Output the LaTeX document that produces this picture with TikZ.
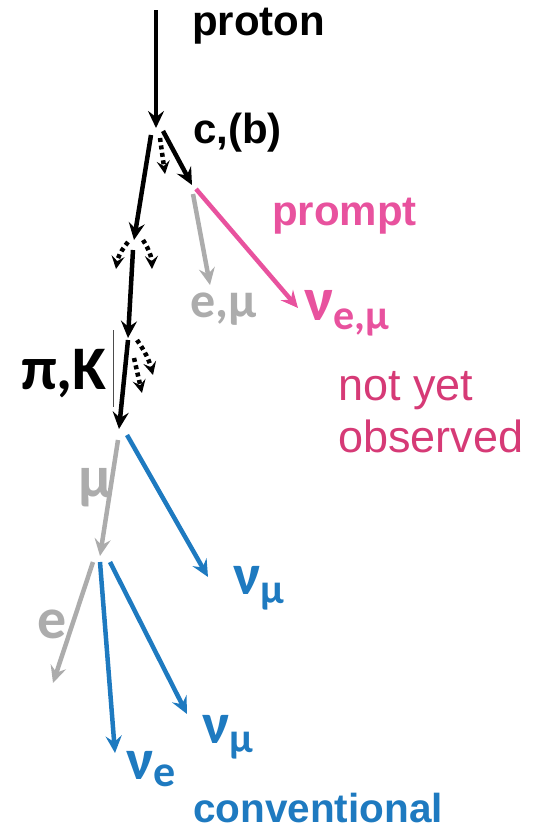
\documentclass[tikz,border=0pt]{standalone}
\usepackage{fontspec}
\setmainfont{Liberation Sans}
\newfontfamily\carl{Carlito}
\usetikzlibrary{arrows.meta}
\definecolor{pinkA}{RGB}{232,82,158}
\definecolor{pinkB}{RGB}{214,58,118}
\definecolor{blueA}{RGB}{30,122,192}
\definecolor{grayA}{RGB}{172,172,172}
\tikzset{
  arr/.style={line width=4.5pt,-{Stealth[length=17pt,width=16pt,inset=6pt]}},
  darr/.style={line width=4.5pt,dash pattern=on 4pt off 3.5pt,-{Stealth[length=13pt,width=13pt,inset=5pt]}},
  lbl/.style={anchor=base west,inner sep=0pt,outer sep=0pt},
  bigb/.style={lbl,font=\bfseries\fontsize{42}{48}\selectfont},
  greek/.style={lbl,font=\carl\bfseries\fontsize{58}{60}\selectfont},
}
\begin{document}
\begin{tikzpicture}[x=1pt,y=-1pt]
\useasboundingbox (0,0) rectangle (536,830);
% coordinates
\coordinate (pTop) at (156,10);
\coordinate (v1) at (156,128);
\coordinate (lS) at (151,135);
\coordinate (lE) at (134,240);
\coordinate (dcS) at (160,138);
\coordinate (dcE) at (165,174);
\coordinate (rS) at (163,131);
\coordinate (rE) at (192,185);
\coordinate (gS) at (193,194);
\coordinate (gE) at (210,285);
\coordinate (pkS) at (196,189);
\coordinate (pkE) at (298,308);
\coordinate (d2lS) at (128,242);
\coordinate (d2lE) at (116,269);
\coordinate (d2rS) at (143,240);
\coordinate (d2rE) at (152,269);
\coordinate (bS) at (133,250);
\coordinate (bM) at (128,338);
\coordinate (bM2) at (128,340);
\coordinate (bE) at (119,429);
\coordinate (d3aS) at (137,340);
\coordinate (d3aE) at (153,375);
\coordinate (d3bS) at (134,358);
\coordinate (d3bE) at (142,393);
\coordinate (curT) at (113,330);
\coordinate (curB) at (113,407);
\coordinate (muS) at (118,440);
\coordinate (muE) at (100,556);
\coordinate (bl1S) at (127,435);
\coordinate (bl1E) at (208,577);
\coordinate (eS) at (93,562);
\coordinate (eE) at (53,683);
\coordinate (neS) at (100,562);
\coordinate (neE) at (115,753);
\coordinate (nmS) at (110,562);
\coordinate (nmE) at (187,714);

% black arrows
\draw[arr] (pTop) -- (v1);
\draw[arr] (lS) -- (lE);
\draw[arr] (rS) -- (rE);
\draw[darr] (dcS) -- (dcE);
\draw[darr] (d2lS) to[bend right=15] (d2lE);
\draw[darr] (d2rS) to[bend left=15] (d2rE);
\draw[arr] (bS) -- (bM);
\draw[arr] (bM2) -- (bE);
\draw[darr] (d3aS) to[bend left=10] (d3aE);
\draw[darr] (d3bS) -- (d3bE);
\draw[line width=1pt,black!70] (curT) -- (curB);

% gray / pink
\draw[arr,grayA] (gS) -- (gE);
\draw[arr,pinkA] (pkS) -- (pkE);
\draw[arr,grayA] (muS) -- (muE);
\draw[arr,grayA] (eS) -- (eE);

% blue
\draw[arr,blueA] (bl1S) -- (bl1E);
\draw[arr,blueA] (neS) -- (neE);
\draw[arr,blueA] (nmS) -- (nmE);

% labels
\node[bigb] (proton) at (192,35) {proton};
\node[bigb] (cb) at (193,143) {c,(b)};
\node[bigb,text=pinkA] (prompt) at (272,225) {prompt};
\node[lbl,text=grayA,font=\carl\bfseries\fontsize{50}{50}\selectfont] (emu) at (190,317) {e,μ};
\node[greek,text=pinkA,font=\carl\bfseries\fontsize{62}{60}\selectfont] (nuemu) at (304,320) {ν\raisebox{-9pt}{\fontsize{42}{40}\selectfont e,μ}};
\node[lbl,text=pinkB,font=\fontsize{45}{52}\selectfont] (noty) at (338,400) {not yet};
\node[lbl,text=pinkB,font=\fontsize{45}{52}\selectfont] (obs) at (338,452) {observed};
\node[lbl,font=\carl\bfseries\fontsize{62}{60}\selectfont] (piK) at (21,389) {π,K};
\node[greek,text=grayA,font=\carl\bfseries\fontsize{60}{60}\selectfont] (mu) at (78,497) {μ};
\node[greek,text=grayA] (e) at (37,638) {e};
\node[greek,text=blueA] (numu1) at (233,594) {ν\raisebox{-9pt}{\fontsize{42}{40}\selectfont μ}};
\node[greek,text=blueA] (numu2) at (202,743) {ν\raisebox{-9pt}{\fontsize{42}{40}\selectfont μ}};
\node[greek,text=blueA] (nue) at (126,779) {ν\raisebox{-7pt}{\fontsize{44}{40}\selectfont e}};
\node[lbl,text=blueA,font=\bfseries\fontsize{40.5}{48}\selectfont] (conv) at (193,822) {conventional};
\end{tikzpicture}
\end{document}
